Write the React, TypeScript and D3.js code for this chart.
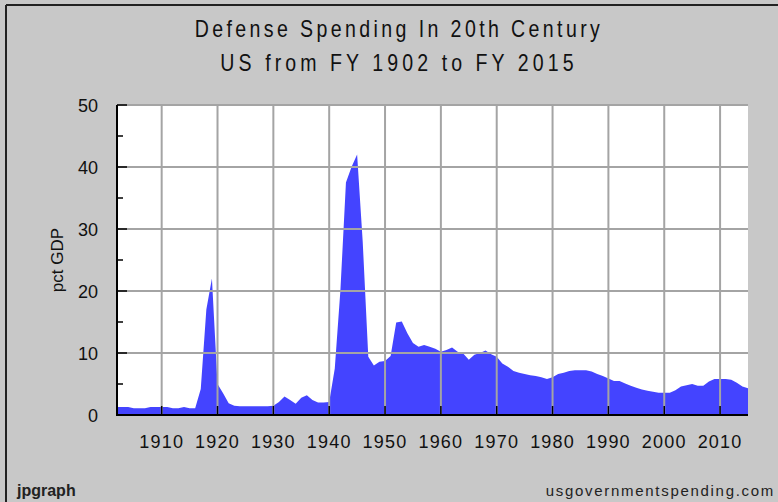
import React from 'react'
import * as d3 from 'd3'

// fiscal years 1902..2015, defense spending as pct of GDP
const firstYear = 1902
const lastYear = 2015
const pctGdp = [
  1.3, 1.3, 1.3, 1.1, 1.1, 1.1, 1.3, 1.3, 1.3, 1.3, // 1902-1911
  1.1, 1.1, 1.3, 1.1, 1.1, 4.2, 17.0, 22.0, 5.0, 3.5, // 1912-1921
  1.9, 1.5, 1.4, 1.4, 1.4, 1.4, 1.4, 1.4, 1.5, 2.1, // 1922-1931
  3.0, 2.4, 1.8, 2.8, 3.2, 2.4, 2.0, 2.0, 2.1, 7.5, // 1932-1941
  20.0, 37.5, 40.0, 42.0, 28.0, 9.4, 8.0, 8.6, 8.7, 9.5, // 1942-1951
  14.9, 15.1, 13.2, 11.6, 11.0, 11.3, 11.0, 10.7, 10.2, 10.5, // 1952-1961
  10.9, 10.2, 9.9, 8.9, 9.7, 10.0, 10.4, 9.8, 9.4, 8.3, // 1962-1971
  7.8, 7.1, 6.8, 6.6, 6.4, 6.3, 6.1, 5.8, 6.1, 6.6, // 1972-1981
  6.8, 7.1, 7.2, 7.2, 7.2, 7.0, 6.6, 6.3, 5.9, 5.5, // 1982-1991
  5.5, 5.1, 4.7, 4.4, 4.1, 3.9, 3.75, 3.6, 3.6, 3.6, // 1992-2001
  4.0, 4.6, 4.8, 5.0, 4.7, 4.7, 5.4, 5.8, 5.8, 5.8, // 2002-2011
  5.7, 5.2, 4.6, 4.3, // 2012-2015
]
const xTicks = [1910, 1920, 1930, 1940, 1950, 1960, 1970, 1980, 1990, 2000, 2010]
const yTicks = [0, 10, 20, 30, 40, 50]
const yMinorTicks = [5, 15, 25, 35, 45]
const titleLines = ['Defense Spending In 20th Century', 'US from FY 1902 to FY 2015']

const width = 778
const height = 502
const plot = { left: 117, right: 748, top: 105, bottom: 415 }
const font = "'Liberation Sans', Arial, sans-serif"

export default function App() {
  const x = d3.scaleLinear().domain([firstYear, lastYear]).range([plot.left, plot.right])
  const y = d3.scaleLinear().domain([0, 50]).range([plot.bottom, plot.top])

  const points = pctGdp.map((v, i) => ({ year: firstYear + i, v }))
  const area = d3
    .area<{ year: number; v: number }>()
    .x(d => x(d.year))
    .y0(y(0))
    .y1(d => y(d.v))

  return (
    <svg
      width={width}
      height={height}
      style={{ position: 'absolute', left: 0, top: 0, display: 'block' }}
      fontFamily={font}
    >
      <rect x={0} y={0} width={width} height={height} fill="#c8c8c8" />
      {/* frame */}
      <line x1={6} x2={6} y1={5} y2={height} stroke="#222" strokeWidth={2} />
      <line x1={6} x2={width} y1={5} y2={5} stroke="#222" strokeWidth={2} />

      {/* narrow-looking title, squeezed horizontally */}
      {titleLines.map((t, i) => (
        <text
          key={t}
          transform={`translate(399,${37 + i * 34}) scale(0.85,1)`}
          textAnchor="middle"
          fontSize={23}
          letterSpacing={i === 0 ? 4 : 4.8}
          fill="#111"
        >
          {t}
        </text>
      ))}

      <rect
        x={plot.left}
        y={plot.top}
        width={plot.right - plot.left}
        height={plot.bottom - plot.top}
        fill="#fff"
      />
      <path d={area(points) || ''} fill="#4444ff" />

      {/* grid on top of the fill */}
      {yTicks.slice(1).map(t => (
        <line key={'gy' + t} x1={plot.left} x2={plot.right} y1={y(t)} y2={y(t)} stroke="#a4a4a4" strokeWidth={2} />
      ))}
      {xTicks.map(t => (
        <line key={'gx' + t} x1={x(t)} x2={x(t)} y1={plot.top} y2={plot.bottom} stroke="#a4a4a4" strokeWidth={2} />
      ))}

      {/* axes */}
      <line x1={plot.left} x2={plot.left} y1={plot.top} y2={plot.bottom + 1} stroke="#000" strokeWidth={2} />
      <line x1={plot.left} x2={plot.right} y1={plot.bottom} y2={plot.bottom} stroke="#000" strokeWidth={2} />
      {yTicks.map(t => (
        <g key={'yt' + t}>
          <line x1={plot.left} x2={plot.left + 10} y1={y(t)} y2={y(t)} stroke="#000" strokeWidth={1.5} />
          <text x={98} y={y(t) + 7} textAnchor="end" fontSize={18} fill="#111">
            {t}
          </text>
        </g>
      ))}
      {yMinorTicks.map(t => (
        <line key={'ym' + t} x1={plot.left} x2={plot.left + 6} y1={y(t)} y2={y(t)} stroke="#000" strokeWidth={1.5} />
      ))}
      {xTicks.map(t => (
        <g key={'xt' + t}>
          <line x1={x(t)} x2={x(t)} y1={plot.bottom} y2={plot.bottom - 9} stroke="#000" strokeWidth={1.5} />
          <text x={x(t)} y={448} textAnchor="middle" fontSize={18} letterSpacing={1.2} fill="#111">
            {t}
          </text>
        </g>
      ))}

      <text
        transform={`translate(63,${(plot.top + plot.bottom) / 2}) rotate(-90)`}
        textAnchor="middle"
        fontSize={17}
        fill="#111"
      >
        pct GDP
      </text>

      <text x={17} y={496} fontSize={16} fontWeight="bold" fill="#222">
        jpgraph
      </text>
      <text x={775} y={496} textAnchor="end" fontSize={15} letterSpacing={1.7} fill="#222">
        usgovernmentspending.com
      </text>
    </svg>
  )
}
